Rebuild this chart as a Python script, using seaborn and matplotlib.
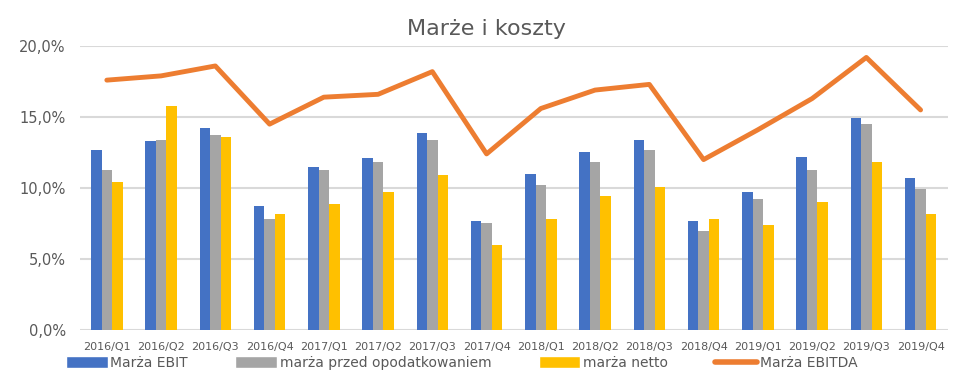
import pandas as pd
import matplotlib.pyplot as plt
import seaborn as sns
from matplotlib.patches import Patch
from matplotlib.lines import Line2D
from matplotlib.ticker import FuncFormatter

quarters = ["2016/Q1", "2016/Q2", "2016/Q3", "2016/Q4",
            "2017/Q1", "2017/Q2", "2017/Q3", "2017/Q4",
            "2018/Q1", "2018/Q2", "2018/Q3", "2018/Q4",
            "2019/Q1", "2019/Q2", "2019/Q3", "2019/Q4"]

ebit = [12.7, 13.3, 14.2, 8.7, 11.5, 12.1, 13.9, 7.7,
        11.0, 12.5, 13.4, 7.7, 9.7, 12.2, 14.9, 10.7]
przed_opod = [11.3, 13.4, 13.7, 7.8, 11.3, 11.8, 13.4, 7.5,
              10.2, 11.8, 12.7, 7.0, 9.2, 11.3, 14.5, 9.9]
netto = [10.4, 15.8, 13.6, 8.2, 8.9, 9.7, 10.9, 6.0,
         7.8, 9.4, 10.1, 7.8, 7.4, 9.0, 11.8, 8.2]
ebitda = [17.6, 17.9, 18.6, 14.5, 16.4, 16.6, 18.2, 12.4,
          15.6, 16.9, 17.3, 12.0, 14.1, 16.3, 19.2, 15.5]

series_names = ["Marża EBIT", "marża przed opodatkowaniem", "marża netto"]
ebitda_name = "Marża EBITDA"
colors = ["#4472C4", "#A5A5A5", "#FFC000"]
line_color = "#ED7D31"
text_color = "#595959"

df = pd.DataFrame({
    "kwartal": quarters * 3,
    "wartosc": ebit + przed_opod + netto,
    "seria": [series_names[0]] * 16 + [series_names[1]] * 16 + [series_names[2]] * 16,
})

sns.set_theme(style="white")
plt.rcParams["font.family"] = ["DejaVu Sans"]

fig, ax = plt.subplots(figsize=(9.72, 3.84), dpi=100)
fig.subplots_adjust(left=0.082, right=0.975, bottom=0.141, top=0.88)

sns.barplot(data=df, x="kwartal", y="wartosc", hue="seria",
            palette=colors, width=0.58, saturation=1, legend=False,
            linewidth=0, edgecolor="none", ax=ax)
sns.pointplot(x=quarters, y=ebitda, color=line_color, marker="",
              linewidth=3.5, ax=ax)

ax.set_ylim(0, 20)
ax.set_yticks([0, 5, 10, 15, 20])
ax.yaxis.set_major_formatter(FuncFormatter(lambda v, p: f"{v:.1f}%".replace(".", ",")))
ax.grid(axis="y", color="#D9D9D9", linewidth=1.5)
ax.set_axisbelow(True)
for s in ax.spines.values():
    s.set_visible(False)
ax.set_xlabel("")
ax.set_ylabel("")
ax.tick_params(axis="x", labelsize=8, colors=text_color, pad=9, length=0)
ax.tick_params(axis="y", labelsize=10.5, colors=text_color, pad=10, length=0)

fig.suptitle("Marże i koszty", fontsize=16, color=text_color, x=0.5, y=0.95)

handles = [Patch(facecolor=c) for c in colors] + [Line2D([0], [0], color=line_color, lw=4)]
fig.legend(handles, series_names + [ebitda_name], loc="center",
           bbox_to_anchor=(0.475, 0.055), ncol=4, frameon=False,
           fontsize=10, labelcolor=text_color, handlelength=3,
           handleheight=0.9, handletextpad=0.2, columnspacing=3.4)

plt.savefig("out.png", dpi=100)
plt.close()
